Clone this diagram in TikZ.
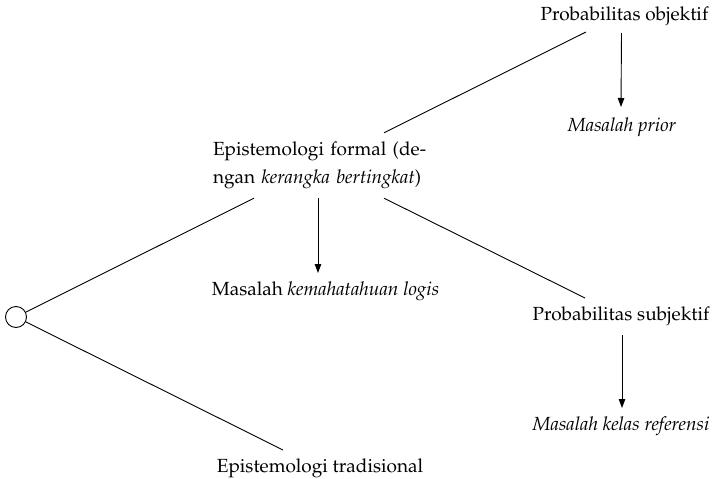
\documentclass[tikz,border=0pt]{standalone}
\usepackage[T1]{fontenc}
\usepackage{mathpazo}
\usetikzlibrary{calc,arrows.meta}
\begin{document}
\begin{tikzpicture}[x=1pt,y=-1pt,
  every node/.style={font=\fontsize{19}{28}\selectfont, inner sep=0pt},
  lbl/.style={anchor=base},
  ln/.style={line width=0.9pt},
  arr/.style={line width=0.9pt,-{Triangle[length=9pt,width=6.5pt]}},
  root/.style={circle,draw,line width=0.9pt,minimum size=21pt}]
\useasboundingbox (0,0) rectangle (712,479);
% nodes
\node[root] (c) at (16,317) {};
\node[text width=217pt, align=left, minimum height=65pt] (ef) at (321.5,165.5)
  {\makebox[217pt][s]{Epistemologi formal (de-}\\ngan \textit{kerangka bertingkat})};
\node[lbl] (po) at (624.5,20) {Probabilitas objektif};
\node[lbl] (mp) at (622,131) {\textit{Masalah prior}};
\node[lbl] (mk) at (325.5,295) {Masalah \textit{kemahatahuan logis}};
\node[lbl] (ps) at (621,320) {Probabilitas subjektif};
\node[lbl] (mr) at (621,430) {\textit{Masalah kelas referensi}};
\node[lbl] (et) at (320,472) {Epistemologi tradisional};
% connectors
\draw[ln] (c) -- ($(ef.south)+(-67.5,0)$);
\draw[ln] (c) -- ($(et.base)+(-37,-22)$);
\draw[ln] ($(ef.north)+(62.5,0)$) -- ($(po.base)+(-38.5,12)$);
\draw[ln] ($(ef.south)+(62.5,0)$) -- ($(ps.base)+(-36,-22)$);
\draw[arr] ($(ef.south)+(-3.5,0)$) -- ($(mk.base)+(-7.5,-22)$);
\draw[arr] ($(po.base)+(-3,13)$) -- ($(mp.base)+(-1,-24)$);
\draw[arr] ($(ps.base)+(1,15)$) -- ($(mr.base)+(1,-22)$);
\end{tikzpicture}
\end{document}
